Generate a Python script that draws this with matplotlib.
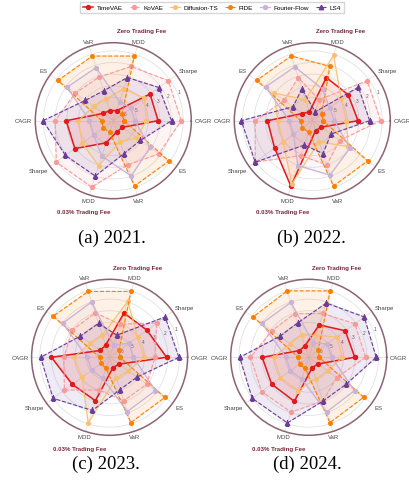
import numpy as np
import matplotlib
matplotlib.use("Agg")
import matplotlib.pyplot as plt

# radial score per axis (gridline k is labelled 7 - k, i.e. rank 1 = outer)
axis_labels = ["CAGR", "Sharpe", "MDD", "VaR", "ES", "CAGR", "Sharpe", "MDD", "VaR", "ES"]
methods = ["TimeVAE", "KoVAE", "Diffusion-TS", "FIDE", "Fourier-Flow", "LS4"]
years = ["2021", "2022", "2023", "2024"]
captions = ["(a) 2021.", "(b) 2022.", "(c) 2023.", "(d) 2024."]

scores_2021 = {
    "TimeVAE": [3.85, 3.9, 0.9, 0.92, 1.07, 4.05, 4.08, 2.0, 1.0, 0.97],
    "KoVAE": [5.84, 5.85, 4.9, 3.94, 4.04, 5.0, 6.05, 6.0, 4.0, 4.84],
    "Diffusion-TS": [2.85, 3.3, 2.9, 1.96, 2.1, 3.0, 3.3, 4.07, 1.9, 2.5],
    "FIDE": [0.94, 0.92, 5.84, 5.84, 5.88, 1.0, 1.06, 1.04, 5.9, 5.9],
    "Fourier-Flow": [1.85, 1.86, 1.73, 4.8, 4.9, 2.05, 2.1, 3.2, 5.0, 3.9],
    "LS4": [5.0, 4.85, 3.9, 2.7, 2.97, 6.04, 5.08, 5.0, 2.97, 2.88],
}
scores_2022 = {
    "TimeVAE": [3.93, 3.8, 3.9, 0.8, 1.05, 3.85, 4.0, 5.93, 0.9, 0.95],
    "KoVAE": [5.87, 5.84, 1.9, 3.9, 2.98, 4.9, 6.05, 3.15, 4.0, 2.9],
    "Diffusion-TS": [2.93, 3.1, 5.9, 1.9, 4.04, 2.96, 3.1, 5.7, 1.9, 3.8],
    "FIDE": [0.94, 1.0, 4.9, 5.85, 5.9, 1.0, 1.05, 1.03, 5.9, 5.88],
    "Fourier-Flow": [1.9, 1.85, 2.86, 4.87, 4.95, 1.97, 2.0, 4.05, 4.92, 4.0],
    "LS4": [4.93, 4.9, 0.8, 2.88, 2.05, 6.1, 6.06, 2.2, 2.97, 1.97],
}
scores_2023 = {
    "TimeVAE": [4.9, 3.96, 4.0, 1.1, 1.0, 5.0, 3.96, 3.93, 0.93, 1.0],
    "KoVAE": [3.9, 5.0, 3.0, 4.0, 3.98, 3.93, 4.8, 2.96, 3.93, 3.94],
    "Diffusion-TS": [2.96, 2.97, 5.07, 2.0, 2.04, 3.07, 2.93, 5.93, 1.88, 2.0],
    "FIDE": [0.9, 1.0, 5.95, 5.95, 6.0, 0.86, 0.9, 1.0, 5.9, 5.87],
    "Fourier-Flow": [2.05, 2.05, 1.1, 5.0, 4.97, 1.94, 1.9, 1.9, 4.9, 4.87],
    "LS4": [5.95, 5.9, 2.0, 3.07, 3.1, 5.93, 6.0, 4.8, 2.92, 2.9],
}
scores_2024 = {
    "TimeVAE": [3.96, 3.88, 2.93, 1.04, 0.98, 4.0, 3.93, 3.98, 0.95, 0.98],
    "KoVAE": [4.9, 4.9, 3.96, 3.94, 3.9, 5.0, 5.0, 4.95, 3.96, 2.97],
    "Diffusion-TS": [2.9, 2.97, 2.0, 2.0, 2.0, 3.0, 3.0, 3.0, 1.96, 2.0],
    "FIDE": [0.9, 1.0, 6.0, 6.0, 5.9, 0.9, 0.95, 1.0, 5.9, 5.84],
    "Fourier-Flow": [1.97, 1.96, 1.3, 4.96, 4.96, 1.94, 1.96, 1.95, 4.95, 4.87],
    "LS4": [5.8, 5.9, 4.9, 3.1, 3.07, 5.93, 6.0, 5.93, 3.96, 3.96],
}
all_scores = [scores_2021, scores_2022, scores_2023, scores_2024]

styles = {
    "TimeVAE": dict(color="#e31a1c", ls="-", marker="o", lw=1.1, ms=2.8),
    "KoVAE": dict(color="#fb9a99", ls="--", marker="o", lw=0.8, ms=2.8),
    "Diffusion-TS": dict(color="#fdbf6f", ls="-", marker="o", lw=0.8, ms=2.6),
    "FIDE": dict(color="#ff7f00", ls="--", marker="o", lw=0.8, ms=2.6),
    "Fourier-Flow": dict(color="#cab2d6", ls="-", marker="o", lw=0.9, ms=2.8),
    "LS4": dict(color="#6a3d9a", ls="--", marker="^", lw=0.8, ms=3.2),
}

W, H = 410, 489
RMAX = 6.7
RAD = 78
centers = [(113.3, 121.7), (312.3, 121.7), (109.6, 358.3), (308.7, 358.3)]
caption_pos = [(111.7, 238), (311, 238), (105.8, 464), (307.5, 464)]
title_color = "#7a2636"

plt.rcParams["font.family"] = ["Liberation Sans", "DejaVu Sans"]

fig = plt.figure(figsize=(W / 100, H / 100), dpi=100)
angles = np.deg2rad(np.arange(0, 360, 36))
closed = np.append(angles, angles[0])

handles = []
for i, scores in enumerate(all_scores):
    cx, cy = centers[i]
    rect = [(cx - RAD) / W, (H - cy - RAD) / H, 2 * RAD / W, 2 * RAD / H]
    ax = fig.add_axes(rect, projection="polar")
    ax.set_ylim(0, RMAX)
    ax.set_xticks(angles)
    ax.set_xticklabels([])
    ax.set_yticks([1, 2, 3, 4, 5, 6])
    ax.set_yticklabels(["6", "5", "4", "3", "2", "1"], fontsize=3.4, color="#555555")
    ax.set_rlabel_position(22.5)
    ax.grid(color="#e2e2e2", lw=0.6)
    ax.spines["polar"].set_color("#8c6470")
    ax.spines["polar"].set_linewidth(1.1)

    for m in methods:
        st = styles[m]
        vals = np.append(scores[m], scores[m][0])
        h, = ax.plot(closed, vals, color=st["color"], ls=st["ls"], lw=st["lw"],
                     marker=st["marker"], ms=st["ms"], label=m, zorder=3)
        ax.fill(closed, vals, color=st["color"], alpha=0.1, zorder=2)
        if i == 0:
            handles.append(h)

    # axis names around the circle
    for a, lab in zip(angles, axis_labels):
        c, s = np.cos(a), np.sin(a)
        ha = "left" if c > 0.5 else ("right" if c < -0.5 else "center")
        va = "bottom" if s > 0.3 else ("top" if s < -0.3 else "center")
        ax.text(a, RMAX * 81 / RAD, lab, ha=ha, va=va, fontsize=4.3, color="#444444")

    ax.text(0.68, 1.077, "Zero Trading Fee", transform=ax.transAxes, ha="center",
            va="center", fontsize=4.4, fontweight="bold", color=title_color)
    ax.text(0.31, -0.083, "0.03% Trading Fee", transform=ax.transAxes, ha="center",
            va="center", fontsize=4.4, fontweight="bold", color=title_color)

    px, py = caption_pos[i]
    fig.text(px / W, 1 - py / H, captions[i], ha="center", va="center",
             fontsize=13.5, family="Liberation Serif")

fig.legend(handles=handles, labels=methods, loc="center", ncol=6,
           bbox_to_anchor=(212 / W, 1 - 8.5 / H), fontsize=4.6, frameon=True,
           fancybox=False, edgecolor="#cccccc", handlelength=1.5,
           columnspacing=1.1, borderpad=0.45, handletextpad=0.6)

fig.savefig("out.png", dpi=100)
